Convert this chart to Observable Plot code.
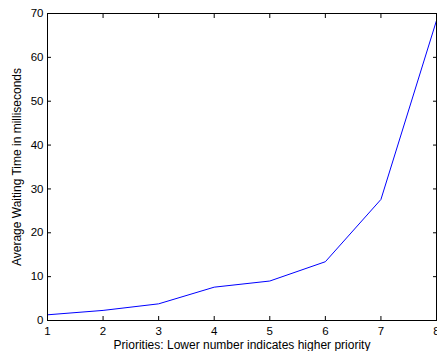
<!DOCTYPE html>
<html>
<head>
<meta charset="utf-8">
<script src="https://cdn.jsdelivr.net/npm/d3@7"></script>
<script src="https://cdn.jsdelivr.net/npm/@observablehq/plot@0.6"></script>
<style>
  html, body { margin: 0; padding: 0; background: #fff; }
  #chart svg { display: block; }
</style>
</head>
<body>
<div id="chart"></div>
<script>
const priorities = [1, 2, 3, 4, 5, 6, 7, 8];
const waitingTimes = [1.3, 2.3, 3.8, 7.6, 9.0, 13.4, 27.6, 68.4];
const xTicks = [1, 2, 3, 4, 5, 6, 7, 8];
const yTicks = [0, 10, 20, 30, 40, 50, 60, 70];
const xLabel = "Priorities: Lower number indicates higher priority";
const yLabel = "Average Waiting Time in milliseconds";

const data = priorities.map((p, i) => ({p, w: waitingTimes[i]}));
const font = "'Liberation Sans', Arial, Helvetica, sans-serif";

const chart = Plot.plot({
  width: 437,
  height: 351,
  marginLeft: 47,
  marginRight: 1,
  marginTop: 13,
  marginBottom: 31,
  style: {fontFamily: font, fontSize: "11px", color: "#000", background: "#fff"},
  x: {domain: [1, 8]},
  y: {domain: [0, 70]},
  marks: [
    Plot.line(data, {x: "p", y: "w", stroke: "#0000ff", strokeWidth: 1}),
    Plot.frame({stroke: "#000", strokeWidth: 1}),
    Plot.axisX(xTicks, {anchor: "bottom", tickSize: 0, tickPadding: 6, label: null, fontSize: 11.5}),
    Plot.axisX(xTicks, {anchor: "bottom", tickSize: -4, text: null, label: null}),
    Plot.axisX(xTicks, {anchor: "top", tickSize: -4, text: null, label: null}),
    Plot.axisY(yTicks, {anchor: "left", tickSize: 0, tickPadding: 4, label: null, fontSize: 11.5}),
    Plot.axisY(yTicks, {anchor: "left", tickSize: -4, text: null, label: null}),
    Plot.axisY(yTicks, {anchor: "right", tickSize: -4, text: null, label: null}),
    Plot.text([xLabel], {frameAnchor: "bottom", textAnchor: "middle", lineAnchor: "middle", dy: 25, fontSize: 12, fill: "#000"}),
    Plot.text([yLabel], {frameAnchor: "left", textAnchor: "middle", lineAnchor: "middle", rotate: -90, dx: -30, fontSize: 12, fill: "#000"})
  ]
});
document.getElementById("chart").appendChild(chart);
</script>
</body>
</html>
